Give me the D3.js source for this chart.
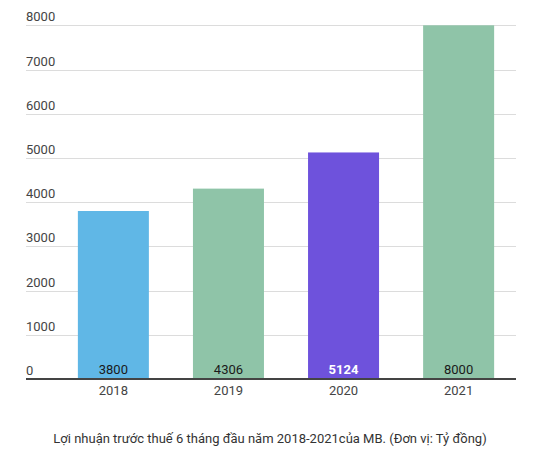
<!DOCTYPE html>
<html><head><meta charset="utf-8">
<script src="https://cdn.jsdelivr.net/npm/d3@7"></script>
<style>body{margin:0;background:#fff}svg{display:block;font-family:Roboto,"Noto Sans",sans-serif}</style>
</head><body><svg id="c" width="544" height="466"></svg>
<script>
const categories = ["2018","2019","2020","2021"];
const values = [3800,4306,5124,8000];
const colors = ["#60b7e6","#8fc4a8","#6e52dc","#8fc4a8"];
const labelColors = ["#1a1a1a","#1a1a1a","#ffffff","#1a1a1a"];
const yTicks = [0,1000,2000,3000,4000,5000,6000,7000,8000];
const caption = "Lợi nhuận trước thuế 6 tháng đầu năm 2018-2021của MB. (Đơn vị: Tỷ đồng)";

const svg = d3.select("#c");
const x = d3.scaleBand().domain(categories).range([56,516]).paddingInner(0.383).paddingOuter(0.19);
const y = d3.scaleLinear().domain([0,8000]).range([379,25.3]);

// gridlines
svg.append("g").selectAll("line").data(yTicks.filter(d=>d>0)).join("line")
  .attr("x1",26).attr("x2",516)
  .attr("y1",d=>Math.round(y(d))+0.5).attr("y2",d=>Math.round(y(d))+0.5)
  .attr("stroke","#dcdcdc").attr("stroke-width",1);

// tick labels
svg.append("g").selectAll("text").data(yTicks).join("text")
  .attr("x",26).attr("y",d=>y(d)-4)
  .attr("font-size",13).attr("fill","#444").text(d=>d);

// bars
svg.append("g").selectAll("rect").data(values).join("rect")
  .attr("x",(d,i)=>x(categories[i])).attr("width",x.bandwidth())
  .attr("y",d=>y(d)).attr("height",d=>y(0)-y(d))
  .attr("fill",(d,i)=>colors[i]);

// value labels
svg.append("g").selectAll("text").data(values).join("text")
  .attr("x",(d,i)=>x(categories[i])+x.bandwidth()/2).attr("y",y(0)-5)
  .attr("text-anchor","middle").attr("font-size",13)
  .attr("font-weight",(d,i)=>labelColors[i]==="#ffffff"?700:400)
  .attr("fill",(d,i)=>labelColors[i]).text(d=>d);

// axis line
svg.append("line").attr("x1",26).attr("x2",516).attr("y1",y(0)).attr("y2",y(0))
  .attr("stroke","#444").attr("stroke-width",2);

// x labels
svg.append("g").selectAll("text").data(categories).join("text")
  .attr("x",d=>x(d)+x.bandwidth()/2).attr("y",395)
  .attr("text-anchor","middle").attr("font-size",13).attr("fill","#444").text(d=>d);

svg.append("text").attr("x",270).attr("y",443).attr("text-anchor","middle")
  .attr("font-size",13).attr("fill","#333").text(caption);
</script></body></html>
